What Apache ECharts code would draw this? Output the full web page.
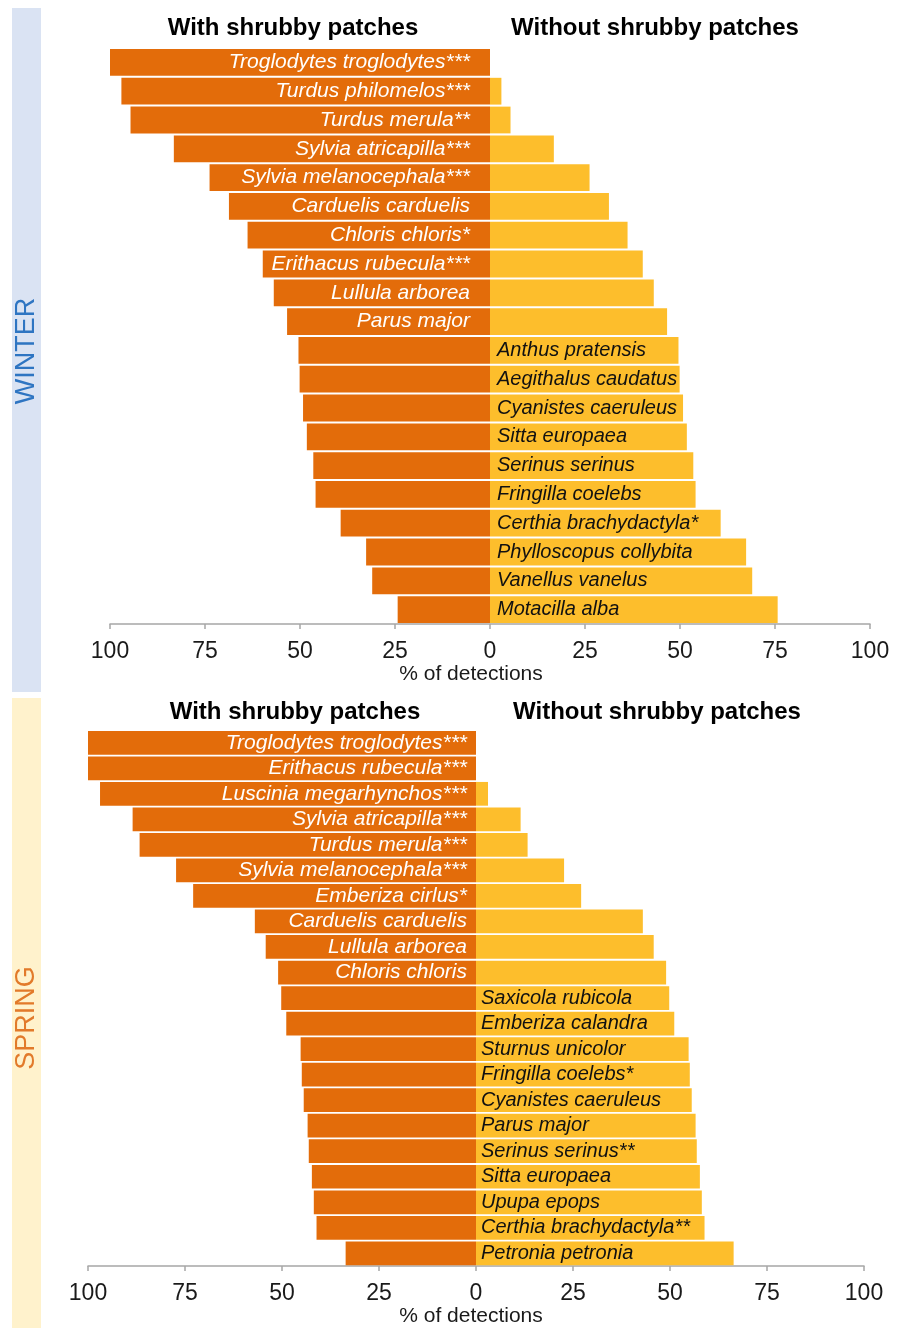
<!DOCTYPE html>
<html>
<head>
<meta charset="utf-8">
<script src="https://cdn.jsdelivr.net/npm/echarts@6/dist/echarts.min.js"></script>
<style>
  html, body { margin: 0; padding: 0; background: #fff; }
  #chart { width: 898px; height: 1328px; }
</style>
</head>
<body>
<div id="chart"></div>
<script>
// winter: % of detections with / without shrubby patches
const winterSpecies = [
  'Troglodytes troglodytes***', 'Turdus philomelos***', 'Turdus merula**', 'Sylvia atricapilla***',
  'Sylvia melanocephala***', 'Carduelis carduelis', 'Chloris chloris*', 'Erithacus rubecula***',
  'Lullula arborea', 'Parus major', 'Anthus pratensis', 'Aegithalus caudatus',
  'Cyanistes caeruleus', 'Sitta europaea', 'Serinus serinus', 'Fringilla coelebs',
  'Certhia brachydactyla*', 'Phylloscopus collybita', 'Vanellus vanelus', 'Motacilla alba'
];
const winterWith = [100, 97, 94.6, 83.2, 73.8, 68.7, 63.8, 59.8, 56.9, 53.4, 50.4, 50.1, 49.2, 48.2, 46.5, 45.9, 39.3, 32.6, 31, 24.3];
const winterWithout = [0, 3, 5.4, 16.8, 26.2, 31.3, 36.2, 40.2, 43.1, 46.6, 49.6, 49.9, 50.8, 51.8, 53.5, 54.1, 60.7, 67.4, 69, 75.7];
const winterLeftLabels = 10; // first rows get their name on the dark bar

// spring
const springSpecies = [
  'Troglodytes troglodytes***', 'Erithacus rubecula***', 'Luscinia megarhynchos***', 'Sylvia atricapilla***',
  'Turdus merula***', 'Sylvia melanocephala***', 'Emberiza cirlus*', 'Carduelis carduelis',
  'Lullula arborea', 'Chloris chloris', 'Saxicola rubicola', 'Emberiza calandra',
  'Sturnus unicolor', 'Fringilla coelebs*', 'Cyanistes caeruleus', 'Parus major',
  'Serinus serinus**', 'Sitta europaea', 'Upupa epops', 'Certhia brachydactyla**', 'Petronia petronia'
];
const springWith = [100, 100, 96.9, 88.5, 86.7, 77.3, 72.9, 57, 54.2, 51, 50.2, 48.9, 45.2, 44.9, 44.4, 43.4, 43.1, 42.3, 41.8, 41.1, 33.6];
const springWithout = [0, 0, 3.1, 11.5, 13.3, 22.7, 27.1, 43, 45.8, 49, 49.8, 51.1, 54.8, 55.1, 55.6, 56.6, 56.9, 57.7, 58.2, 58.9, 66.4];
const springLeftLabels = 10;

const xTicks = { min: -100, max: 100, interval: 25 };

const FONT = 'Liberation Sans, Arial, sans-serif';
const DARK = '#E36C0A';
const LIGHT = '#FDBE2C';

const chart = echarts.init(document.getElementById('chart'), null, { renderer: 'canvas' });

function xAxisFor(gridIndex, nameShift) {
  return {
    type: 'value', gridIndex: gridIndex,
    min: xTicks.min, max: xTicks.max, interval: xTicks.interval,
    name: '% of detections', nameLocation: 'middle', nameGap: 39,
    nameTextStyle: { fontFamily: FONT, fontSize: 21, color: '#1a1a1a', padding: [0, nameShift, 0, 0] },
    axisLine: { show: true, onZero: false, lineStyle: { color: '#A6A6A6', width: 1.5 } },
    axisTick: { show: true, length: 5, lineStyle: { color: '#A6A6A6', width: 1.5 } },
    axisLabel: { fontFamily: FONT, fontSize: 23, color: '#1a1a1a', margin: 16, formatter: v => Math.abs(v) },
    splitLine: { show: false }
  };
}

function yAxisFor(gridIndex, species) {
  return {
    type: 'category', gridIndex: gridIndex, inverse: true, data: species,
    axisLine: { show: false }, axisTick: { show: false }, axisLabel: { show: false }
  };
}

function seriesFor(idx, species, withVals, withoutVals, split, leftDist, rightDist) {
  const withData = withVals.map((v, i) => ({ value: -v, label: { show: i < split } }));
  const withoutData = withoutVals.map((v, i) => ({ value: v, label: { show: i >= split } }));
  return [
    {
      name: 'With shrubby patches', type: 'bar', xAxisIndex: idx, yAxisIndex: idx,
      stack: 's' + idx, barCategoryGap: '7%',
      itemStyle: { color: DARK },
      label: {
        position: 'insideRight', distance: leftDist, color: '#fff',
        fontFamily: FONT, fontSize: 21, fontStyle: 'italic',
        formatter: p => species[p.dataIndex]
      },
      data: withData
    },
    {
      name: 'Without shrubby patches', type: 'bar', xAxisIndex: idx, yAxisIndex: idx,
      stack: 's' + idx, barCategoryGap: '7%',
      itemStyle: { color: LIGHT },
      label: {
        position: 'insideLeft', distance: rightDist, color: '#111',
        fontFamily: FONT, fontSize: 20, fontStyle: 'italic',
        formatter: p => species[p.dataIndex]
      },
      data: withoutData
    }
  ];
}

function header(x, y, text) {
  return {
    type: 'text', x: x, y: y,
    style: { text: text, fontFamily: FONT, fontSize: 24, fontWeight: 'bold', fill: '#000', align: 'center', verticalAlign: 'middle' }
  };
}

const option = {
  animation: false,
  backgroundColor: '#fff',
  grid: [
    { left: 110, right: 28, top: 48, height: 576 },
    { left: 88, right: 34, top: 730, height: 538 }
  ],
  xAxis: [xAxisFor(0, 38), xAxisFor(1, 10)],
  yAxis: [yAxisFor(0, winterSpecies), yAxisFor(1, springSpecies)],
  series: [
    ...seriesFor(0, winterSpecies, winterWith, winterWithout, winterLeftLabels, 20, 7),
    ...seriesFor(1, springSpecies, springWith, springWithout, springLeftLabels, 9, 5)
  ],
  graphic: [
    { type: 'rect', shape: { x: 12, y: 8, width: 29, height: 684 }, style: { fill: '#DAE3F3' } },
    { type: 'rect', shape: { x: 12, y: 698, width: 29, height: 630 }, style: { fill: '#FFF2CC' } },
    {
      type: 'text', x: 27, y: 351, rotation: Math.PI / 2,
      style: { text: 'WINTER', fontFamily: FONT, fontSize: 27, fill: '#2E75C2', align: 'center', verticalAlign: 'middle' }
    },
    {
      type: 'text', x: 27, y: 1018, rotation: Math.PI / 2,
      style: { text: 'SPRING', fontFamily: FONT, fontSize: 27, fill: '#E27A2A', align: 'center', verticalAlign: 'middle' }
    },
    header(293, 28, 'With shrubby patches'),
    header(655, 28, 'Without shrubby patches'),
    header(295, 712, 'With shrubby patches'),
    header(657, 712, 'Without shrubby patches')
  ]
};

chart.setOption(option);
</script>
</body>
</html>
